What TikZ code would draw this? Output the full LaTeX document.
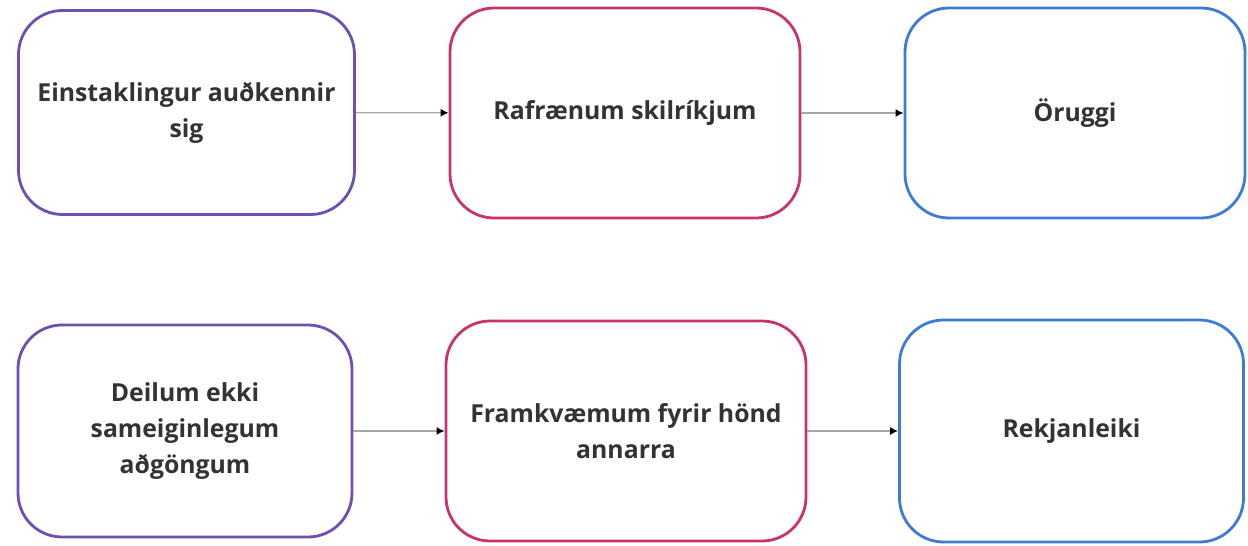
\documentclass[tikz,border=0pt]{standalone}
\usepackage{fontspec}
\setmainfont{Open Sans}
\usetikzlibrary{arrows.meta}
\definecolor{lila}{HTML}{6E4FB3}
\definecolor{rosa}{HTML}{C8336E}
\definecolor{blar}{HTML}{3D7BD6}
\definecolor{texti}{HTML}{333333}
\tikzset{box/.style = {draw, rounded corners = 22pt, line width = 1.4pt, fill = white,
    align = center, text = texti, font = \bfseries\fontsize{12.4}{18}\selectfont},
  arr/.style = {draw = gray!70, line width = 0.7pt, -{Latex[black, length = 4pt, width = 4pt]}}}

\begin{document}
\begin{tikzpicture}[x=0.5pt, y=-0.5pt]
    \useasboundingbox (0, 0) rectangle (1248, 546);
    \node (ein) at (186.5, 112.5) [box, draw = lila, minimum width = 168pt, minimum height = 102pt] {Einstaklingur auðkennir\\sig};
    \node (raf) at (625, 113) [box, draw = rosa, minimum width = 175pt, minimum height = 105pt] {Rafrænum skilríkjum};
    \node (oru) at (1075, 113) [box, draw = blar, minimum width = 170pt, minimum height = 105pt] {Öruggi};
    \node (dei) at (185, 431) [box, draw = lila, minimum width = 167pt, minimum height = 106pt] {Deilum ekki\\sameiginlegum\\aðgöngum};
    \node (fra) at (626, 431) [box, draw = rosa, minimum width = 180pt, minimum height = 110pt] {Framkvæmum fyrir hönd\\annarra};
    \node (rek) at (1071.5, 431) [box, draw = blar, minimum width = 172pt, minimum height = 111pt] {Rekjanleiki};
    \draw [arr] (ein) -- (raf);
    \draw [arr] (raf) -- (oru);
    \draw [arr] (dei) -- (fra);
    \draw [arr] (fra) -- (rek);
  \end{tikzpicture}
\end{document}
